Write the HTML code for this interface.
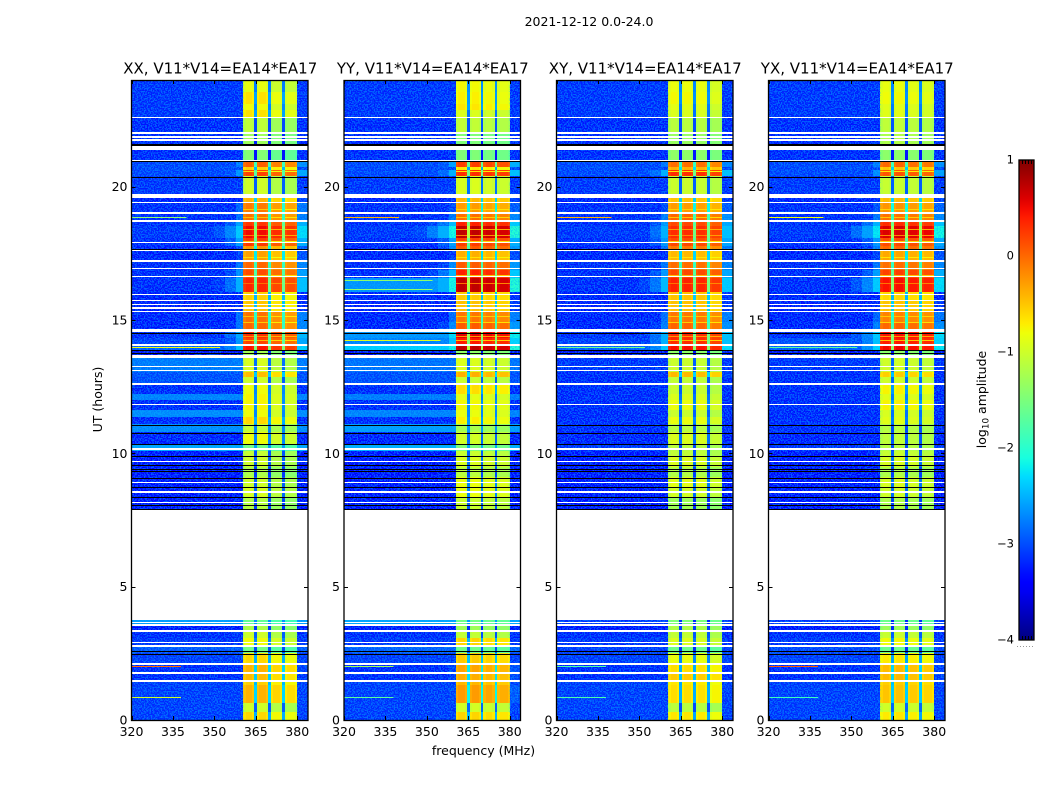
<!DOCTYPE html>
<html>
<head>
<meta charset="utf-8">
<title>2021-12-12 0.0-24.0</title>
<style>
html,body{margin:0;padding:0;background:#fff;}
svg{display:block;font-family:"DejaVu Sans","Liberation Sans",sans-serif;fill:#000;}
</style>
</head>
<body>
<svg id="figure" xmlns="http://www.w3.org/2000/svg" width="1050" height="800" viewBox="0 0 1050 800">
<defs>
<filter id="speckle" x="0" y="0" width="100%" height="100%" color-interpolation-filters="sRGB">
<feTurbulence type="fractalNoise" baseFrequency="0.7" numOctaves="1" seed="7"/>
<feColorMatrix type="matrix" values="0 0 0 0 0  0 0 0 0 0.72  0 0 0 0 1  11 0 0 0 -5.2"/>
</filter>
<linearGradient id="jet-gradient" x1="0" y1="1" x2="0" y2="0"></linearGradient>
</defs>
<text x="589" y="26" font-size="12.5" text-anchor="middle">2021-12-12 0.0-24.0</text>
<text x="483.5" y="755" font-size="12.5" text-anchor="middle">frequency (MHz)</text>
<text x="102" y="399.5" font-size="12.5" text-anchor="middle" transform="rotate(-90 102 399.5)">UT (hours)</text>
<text x="986" y="399.5" font-size="12.5" text-anchor="middle" transform="rotate(-90 986 399.5)">log<tspan font-size="8.8" dy="2.5">10</tspan><tspan dy="-2.5"> amplitude</tspan></text>
<g id="panels"></g>
<g id="colorbar"></g>
</svg>
<script>
// ---- data (hours, MHz, log10 amplitude) ----
const panelTitles = ["XX, V11*V14=EA14*EA17", "YY, V11*V14=EA14*EA17", "XY, V11*V14=EA14*EA17", "YX, V11*V14=EA14*EA17"];
const xTickValues = [320, 335, 350, 365, 380];
const yTickValues = [0, 5, 10, 15, 20];
const colorbarTickValues = [1, 0, -1, -2, -3, -4];

const rowEdges = [0,.3,.64,1.31,1.5,1.76,2.1,2.51,2.78,3.08,3.34,3.56,3.75,7.89,8.36,8.74,9.11,9.49,9.86,10.09,10.35,10.8,11.1,11.36,11.63,11.99,12.23,12.6,12.86,13.05,13.69,13.88,14.1,14.33,14.63,14.93,15.3,15.75,16.05,16.58,16.88,17.25,17.63,17.78,18.08,18.53,18.7,19.05,19.39,19.73,20.4,20.63,20.74,21,21.53,22,22.58,22.88,23.1,23.55,24];

const signalXX = [-.67,-1.07,-.47,-.62,-.52,-.47,-.67,-1.62,-.87,-1.07,-1.27,-1.72,null,-1.22,-1.02,-1.07,-1.27,-1.07,-1.12,-1.62,-.87,-1.12,-.67,-.87,-.82,-.82,-.87,-1.07,-.52,-1.02,-1.32,.38,.13,.23,-.07,-.12,-.57,-.62,.28,.08,-.07,-.37,-.32,.18,.43,.18,-.12,-.17,-.47,-1.07,.13,-.62,-.02,-1.52,-1.37,-1.17,-.72,-.87,-.72,-.92];
const signalYY = [-.62,-1.02,-.32,-.47,-.42,-.37,-.57,-1.62,-.62,-1.12,-1.32,-1.62,null,-1.07,-.87,-.87,-1.17,-.97,-1.07,-1.52,-1.02,-1.27,-.77,-.87,-.82,-.92,-.67,-1.07,-.42,-.97,-1.42,.68,.38,.53,.03,-.12,-.52,-.57,.68,.33,.03,-.42,.03,.18,.68,.33,-.07,-.32,-.47,-.97,.28,-.72,.18,-1.52,-1.52,-1.12,-.97,-.72,-.77,-.82];
const signalXY = [-.72,-1.17,-.67,-.72,-.57,-.67,-.87,-1.62,-.97,-1.12,-1.22,-1.52,null,-1.32,-1.02,-.92,-1.22,-.97,-1.12,-1.17,-.97,-1.17,-.87,-1.07,-.87,-.97,-1.07,-1.12,-.47,-1.07,-1.42,.43,.28,.28,-.02,-.12,-.52,-.52,.33,.13,-.07,-.47,-.12,.13,.28,.13,-.02,-.32,-.52,-1.07,.28,-.42,-.07,-1.42,-1.37,-1.17,-.97,-.92,-.82,-.87];
const signalYX = [-.72,-1.02,-.52,-.57,-.47,-.47,-.72,-1.62,-.82,-1.07,-1.32,-1.62,null,-1.22,-1.02,-.97,-1.22,-.97,-1.07,-1.17,-1.12,-1.17,-.92,-.97,-.77,-.92,-.77,-1.02,-.57,-1.02,-1.42,.48,.38,.43,-.02,-.17,-.52,-.62,.43,.18,-.07,-.37,-.02,.13,.58,.28,-.07,-.27,-.47,-1.07,.08,-.52,-.02,-1.42,-1.22,-1.12,-.92,-.92,-.82,-.87];

const backgroundXX = [-3.18,-3.18,-3.18,-3.18,-3.28,-3.28,-3.18,-3.03,-3.23,-3.28,-3.38,-2.63,null,-3.43,-3.38,-3.38,-3.43,-3.38,-3.38,-2.58,-3.33,-2.73,-3.28,-2.73,-3.28,-2.78,-3.28,-3.08,-3.08,-2.83,-3.48,-2.98,-3.18,-3.28,-3.33,-3.33,-3.33,-3.33,-3.28,-3.28,-3.28,-3.33,-3.33,-3.28,-3.23,-3.28,-3.28,-3.28,-3.33,-3.23,-3.13,-3.13,-3.13,-3.28,-3.28,-3.28,-3.23,-3.23,-3.23,-3.23];
const backgroundYY = [-3.18,-3.18,-3.18,-3.18,-3.28,-3.28,-3.18,-2.98,-3.23,-3.28,-3.38,-2.58,null,-3.43,-3.38,-3.38,-3.43,-3.38,-3.38,-2.53,-3.33,-2.63,-3.28,-2.78,-3.28,-2.83,-3.28,-3.08,-3.08,-2.88,-3.48,-2.33,-2.78,-2.68,-3.33,-3.33,-3.33,-3.33,-2.68,-3.28,-3.28,-3.33,-3.33,-3.28,-3.23,-3.28,-3.28,-3.28,-3.33,-3.23,-3.13,-3.13,-3.13,-3.28,-3.28,-3.28,-3.23,-3.23,-3.23,-3.23];
const backgroundXY = [-3.18,-3.18,-3.18,-3.18,-3.28,-3.28,-3.18,-3.18,-3.23,-3.28,-3.38,-3.18,null,-3.43,-3.38,-3.38,-3.43,-3.38,-3.38,-3.23,-3.33,-3.28,-3.28,-3.28,-3.28,-3.28,-3.28,-3.28,-3.28,-3.23,-3.48,-2.98,-3.18,-3.28,-3.33,-3.33,-3.33,-3.33,-3.28,-3.28,-3.28,-3.33,-3.33,-3.28,-3.23,-3.28,-3.28,-3.28,-3.33,-3.23,-3.13,-3.13,-3.13,-3.28,-3.28,-3.28,-3.23,-3.23,-3.23,-3.23];
const backgroundYX = [-3.18,-3.18,-3.18,-3.18,-3.28,-3.28,-3.18,-3.13,-3.23,-3.28,-3.38,-3.18,null,-3.43,-3.38,-3.38,-3.43,-3.38,-3.38,-3.23,-3.33,-3.28,-3.28,-3.28,-3.28,-3.28,-3.28,-3.28,-3.28,-3.23,-3.48,-2.98,-3.08,-3.28,-3.33,-3.33,-3.33,-3.33,-3.28,-3.28,-3.28,-3.33,-3.33,-3.28,-3.23,-3.28,-3.28,-3.28,-3.33,-3.23,-3.13,-3.13,-3.13,-3.28,-3.28,-3.28,-3.23,-3.23,-3.23,-3.23];

// frequency bins and how far each sits below the in-band signal level
const freqEdges = [320,345,350,354,358,360.5,361.3,363.7,364.5,365.5,366.3,368.7,369.5,370.5,371.3,373.7,374.5,375.5,376.3,379.2,380,383.9];
const binDrop = [-9,-3.8,-3.5,-3.2,-2.8,-.08,0,-.08,-1.85,-.08,0,-.08,-1.85,-.08,0,-.08,-1.85,-.08,0,-.08,-2.7];
const binChannel = [null,null,null,null,null,0,0,0,null,1,1,1,null,2,2,2,null,3,3,3,null];
const channelGainXX = [.08,.08,-.1,-.15];
const channelGainYY = [.05,.05,0,-.05];
const channelGainXY = [.05,.05,.03,-.08];
const channelGainYX = [.03,.05,0,-.05];

// flagged (white) and zero-amplitude (black) integrations
const flaggedLow  = [1.43,1.74,2.08,2.74,2.89,3.3,3.54,3.62,8.12,8.53,8.87,9.66,10.14,10.31,11.81,12.58,13.09,13.22,13.56,14.04,14.55,15.3,15.43,15.56,15.71,15.94,16.61,16.91,17.19,17.6,17.87,18.69,18.99,19.37,19.58,20.94,21.36,21.71,21.84,21.99,22.56];
const flaggedHigh = [1.5,1.79,2.13,2.81,2.94,3.37,3.59,3.67,8.17,8.58,8.92,9.71,10.19,10.36,11.86,12.63,13.14,13.27,13.69,14.09,14.66,15.35,15.48,15.61,15.76,15.99,16.66,16.96,17.24,17.65,17.92,18.74,19.04,19.42,19.73,20.99,21.53,21.79,21.89,22.04,22.61];
const zeroHours = [2.49,2.57,7.91,8.06,8.37,8.75,9.06,9.34,9.43,9.56,9.9,10.35,10.78,11.08,13.78,13.87,14.53,17.66,20.38,20.98,21.55,21.6];

// narrow-band interference lines
const rfiHours = [.86,2.03,14,14.25,16.15,16.5,18.87];
const rfiEndFreq = [338,338,352,355,352,352,340];
const rfiXX = [-1,0,-.8,null,null,null,-1.4];
const rfiYY = [-1.7,-1.3,null,-.9,-1.4,-1.4,-.4];
const rfiXY = [-1.8,-1.8,-1.6,null,null,null,-.4];
const rfiYX = [-1.9,.1,-1.7,null,null,null,-.8];

// dimmer integrations inside the bright band
const stripeHours = [14.06,14.25,14.4,14.93,15.15,16.39,16.69,16.95,17.36,17.96,18.19,18.41,18.86,19.16,20.59];
const stripeLevel = [-.3,-.5,-.3,-.6,-.55,-.1,-.5,-.6,-.7,-.6,-.2,-.3,-.55,-.6,-.7];
const channelStart = [360.5,365.5,370.5,375.5];
const channelEnd = [364.5,369.5,374.5,380];

const panelSignals = [signalXX, signalYY, signalXY, signalYX];
const panelBackgrounds = [backgroundXX, backgroundYY, backgroundXY, backgroundYX];
const panelGains = [channelGainXX, channelGainYY, channelGainXY, channelGainYX];
const panelRfi = [rfiXX, rfiYY, rfiXY, rfiYX];
const panelKeys = ["xx", "yy", "xy", "yx"];

// ---- layout and scales ----
const NS = "http://www.w3.org/2000/svg";
const plotTop = 80, plotBottom = 720, plotWidth = 176.5;
const panelLefts = [131.5, 344, 556.5, 768.5];
const hourMax = 24, freqMin = 320, freqMax = 383.9;
const cbLeft = 1019, cbRight = 1034, cbTop = 160, cbBottom = 640, cbMin = -4, cbMax = 1;

function yScale(h) { return plotBottom - (h / hourMax) * (plotBottom - plotTop); }
function xScale(left, f) { return left + (f - freqMin) / (freqMax - freqMin) * plotWidth; }
function cbScale(v) { return cbBottom - (v - cbMin) / (cbMax - cbMin) * (cbBottom - cbTop); }

function ramp(t, pts) {
  for (let i = 1; i < pts.length; i++) {
    if (t <= pts[i][0]) {
      const a = pts[i - 1], b = pts[i];
      return a[1] + (b[1] - a[1]) * (t - a[0]) / (b[0] - a[0]);
    }
  }
  return pts[pts.length - 1][1];
}
function jet(v) {
  const t = Math.max(0, Math.min(1, (v - cbMin) / (cbMax - cbMin)));
  const r = ramp(t, [[0,0],[.35,0],[.66,1],[.89,1],[1,.5]]);
  const g = ramp(t, [[0,0],[.125,0],[.375,1],[.64,1],[.91,0],[1,0]]);
  const b = ramp(t, [[0,.5],[.11,1],[.34,1],[.65,0],[1,0]]);
  return "rgb(" + Math.round(r * 255) + "," + Math.round(g * 255) + "," + Math.round(b * 255) + ")";
}
function make(tag, parent) {
  const el = document.createElementNS(NS, tag);
  parent.appendChild(el);
  return el;
}
function setAll(el, attrs) {
  for (const k in attrs) el.setAttribute(k, attrs[k]);
}

const panelsRoot = document.getElementById("panels");

panelLefts.forEach(function (left, p) {
  const key = panelKeys[p];
  const signal = panelSignals[p];
  const background = panelBackgrounds[p];
  const gains = panelGains[p];
  const rfi = panelRfi[p];
  const right = left + plotWidth;

  const group = make("g", panelsRoot);
  
  

  const cells = make("g", group);
  
  
  cells.setAttribute("shape-rendering", "crispEdges");

  signal.forEach(function (level, r) {
    if (level === null) return;
    const y0 = Math.round(yScale(rowEdges[r + 1]));
    const y1 = Math.round(yScale(rowEdges[r]));
    binDrop.forEach(function (drop, b) {
      const ch = binChannel[b];
      const gain = ch === null ? 0 : gains[ch];
      const value = Math.max(background[r], level + drop + gain);
      const x0 = Math.round(xScale(left, freqEdges[b]));
      const x1 = Math.round(xScale(left, freqEdges[b + 1]));
      const cell = make("rect", cells);
      
      
      setAll(cell, { x: x0, y: y0, width: x1 - x0, height: y1 - y0, fill: jet(value) });
    });
  });

  const stripes = make("g", group);
  
  
  stripes.setAttribute("shape-rendering", "crispEdges");
  stripeHours.forEach(function (h, i) {
    channelStart.forEach(function (fs, c) {
      const xa = Math.round(xScale(left, fs));
      const xb = Math.round(xScale(left, channelEnd[c]));
      const s = make("rect", stripes);
      
      
      setAll(s, { x: xa, y: Math.round(yScale(h)), width: xb - xa, height: 1, fill: jet(stripeLevel[i] + gains[c]) });
    });
  });

  // background speckle on the out-of-band part of the data
  const holeIndex = signal.indexOf(null);
  const segments = [[rowEdges[0], rowEdges[holeIndex]], [rowEdges[holeIndex + 1], rowEdges[rowEdges.length - 1]]];
  const spans = [[freqEdges[0], freqEdges[5]], [freqEdges[freqEdges.length - 2], freqEdges[freqEdges.length - 1]]];
  segments.forEach(function (seg) {
    spans.forEach(function (span) {
      const n = make("rect", group);
      
      
      const xa = xScale(left, span[0]), xb = xScale(left, span[1]);
      setAll(n, { x: xa, y: yScale(seg[1]), width: xb - xa, height: yScale(seg[0]) - yScale(seg[1]), filter: "url(#speckle)", opacity: .48 });
    });
  });

  const rfiGroup = make("g", group);
  
  
  rfiGroup.setAttribute("shape-rendering", "crispEdges");
  rfi.forEach(function (value, i) {
    if (value === null) return;
    const line = make("rect", rfiGroup);
    
    
    const xb = xScale(left, rfiEndFreq[i]);
    setAll(line, { x: left, y: Math.round(yScale(rfiHours[i])), width: xb - left, height: 1, fill: jet(value) });
  });

  const flags = make("g", group);
  
  
  flags.setAttribute("shape-rendering", "crispEdges");
  flaggedLow.forEach(function (lo, i) {
    const y0 = Math.round(yScale(flaggedHigh[i]));
    const y1 = Math.round(yScale(lo));
    const band = make("rect", flags);
    
    
    setAll(band, { x: left, y: y0, width: plotWidth, height: Math.max(1, y1 - y0), fill: "#fff" });
  });
  zeroHours.forEach(function (h) {
    const band = make("rect", flags);
    
    
    setAll(band, { x: left, y: Math.round(yScale(h)), width: plotWidth, height: 1, fill: "#000" });
  });

  const ticks = make("g", group);
  
  

  xTickValues.forEach(function (f) {
    const x = Math.round(xScale(left, f)) + .5;
    [[plotBottom, plotBottom - 4], [plotTop, plotTop + 4]].forEach(function (s) {
      const t = make("line", ticks);
      
      
      setAll(t, { x1: x, x2: x, y1: s[0], y2: s[1], stroke: "#000", "stroke-width": 1 });
    });
    const label = make("text", ticks);
    
    
    setAll(label, { x: xScale(left, f), y: 736, "font-size": 12.5, "text-anchor": "middle" });
    label.textContent = String(f);
  });

  yTickValues.forEach(function (h) {
    const y = Math.round(yScale(h)) + .5;
    [[left, left + 4], [right, right - 4]].forEach(function (s) {
      const t = make("line", ticks);
      
      
      setAll(t, { x1: s[0], x2: s[1], y1: y, y2: y, stroke: "#000", "stroke-width": 1 });
    });
    const label = make("text", ticks);
    
    
    setAll(label, { x: left - 4, y: yScale(h) + 4.5, "font-size": 12.5, "text-anchor": "end" });
    label.textContent = String(h);
  });

  const spine = make("rect", group);
  
  
  setAll(spine, { x: left, y: plotTop + .5, width: plotWidth, height: plotBottom - plotTop, fill: "none", stroke: "#000", "stroke-width": 1.3 });

  const title = make("text", group);
  
  
  setAll(title, { x: left + plotWidth / 2 + .5, y: 73.5, "font-size": 15, "text-anchor": "middle" });
  title.textContent = panelTitles[p];
});

// ---- colorbar ----
const gradient = document.getElementById("jet-gradient");
for (let v = cbMin; v <= cbMax + 1e-9; v += .1) {
  const stop = make("stop", gradient);
  stop.setAttribute("offset", (v - cbMin) / (cbMax - cbMin));
  stop.setAttribute("stop-color", jet(v));
}
const cbRoot = document.getElementById("colorbar");
const cbBar = make("rect", cbRoot);


setAll(cbBar, { x: cbLeft, y: cbTop, width: cbRight - cbLeft, height: cbBottom - cbTop, fill: "url(#jet-gradient)" });

[0, 1, 2, 3].forEach(function (i) {
  const x = cbLeft + 3.5 + i * 3;
  [[cbTop, cbTop + 4], [cbBottom, cbBottom - 4]].forEach(function (s) {
    const t = make("line", cbRoot);
    
    
    setAll(t, { x1: x, x2: x, y1: s[0], y2: s[1], stroke: "#000", "stroke-width": 1 });
  });
});

const cbFrame = make("rect", cbRoot);


setAll(cbFrame, { x: cbLeft, y: cbTop, width: cbRight - cbLeft, height: cbBottom - cbTop, fill: "none", stroke: "#000", "stroke-width": 1.3 });

colorbarTickValues.forEach(function (v) {
  const label = make("text", cbRoot);
  
  
  setAll(label, { x: 1014, y: cbScale(v) + 3.5, "font-size": 11.5, "text-anchor": "end" });
  label.textContent = String(v).replace("-", "\u2212");
});

const cbDots = make("line", cbRoot);


setAll(cbDots, { x1: 1017, x2: 1035, y1: 646.5, y2: 646.5, stroke: "#999", "stroke-width": 1, "stroke-dasharray": "1 2" });
</script>
</body>
</html>
